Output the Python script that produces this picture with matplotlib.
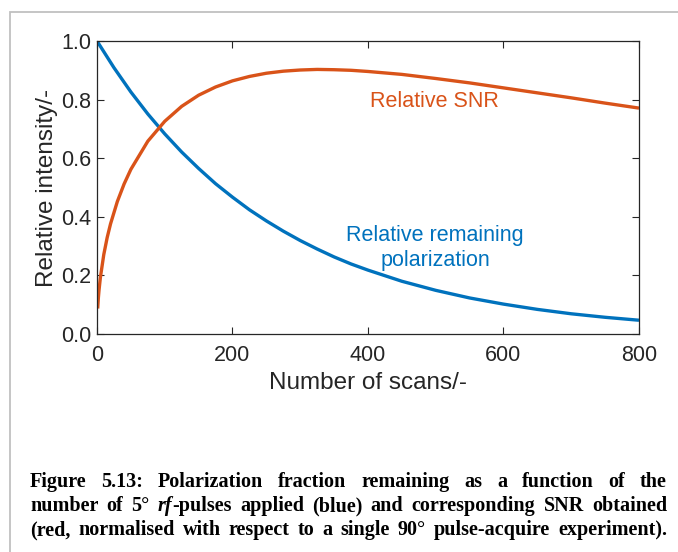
import matplotlib
matplotlib.use("Agg")
import matplotlib.pyplot as plt
from matplotlib.patches import Rectangle

# Data
scans_pol = [0, 25, 50, 75, 100, 125, 150, 175, 200, 225, 250, 275, 300, 325,
             350, 375, 400, 450, 500, 550, 600, 650, 700, 750, 800]
pol = [1.0, 0.909, 0.826, 0.751, 0.683, 0.621, 0.565, 0.513, 0.467, 0.424,
       0.386, 0.351, 0.319, 0.290, 0.263, 0.239, 0.218, 0.180, 0.149, 0.123,
       0.102, 0.084, 0.069, 0.057, 0.047]
scans_snr = [1, 2, 3, 5, 10, 15, 20, 30, 40, 50, 75, 100, 125, 150, 175, 200,
             225, 250, 275, 300, 325, 350, 375, 400, 450, 500, 550, 600, 650,
             700, 750, 800]
snr = [0.087, 0.123, 0.150, 0.193, 0.271, 0.329, 0.376, 0.452, 0.512, 0.562,
       0.658, 0.726, 0.777, 0.815, 0.843, 0.864, 0.879, 0.890, 0.897, 0.901,
       0.903, 0.902, 0.900, 0.896, 0.886, 0.872, 0.857, 0.840, 0.823, 0.806,
       0.788, 0.771]

xticks = [0, 200, 400, 600, 800]
yticks = [0.0, 0.2, 0.4, 0.6, 0.8, 1.0]
ytick_labels = ["0.0", "0.2", "0.4", "0.6", "0.8", "1.0"]

caption_lines = [
    [("Figure", "normal"), ("5.13:", "normal"), ("Polarization", "normal"),
     ("fraction", "normal"), ("remaining", "normal"), ("as", "normal"),
     ("a", "normal"), ("function", "normal"), ("of", "normal"), ("the", "normal")],
    [("number", "normal"), ("of", "normal"), ("5°", "normal"),
     ("rf-pulses", "mixed"), ("applied", "normal"), ("(blue)", "normal"),
     ("and", "normal"), ("corresponding", "normal"), ("SNR", "normal"),
     ("obtained", "normal")],
    [("(red,", "normal"), ("normalised", "normal"), ("with", "normal"),
     ("respect", "normal"), ("to", "normal"), ("a", "normal"),
     ("single", "normal"), ("90°", "normal"), ("pulse-acquire", "normal"),
     ("experiment).", "normal")],
]

BLUE = "#0072BD"
ORANGE = "#D95319"
W, H = 678, 552

plt.rcParams["font.family"] = ["Liberation Sans", "DejaVu Sans"]
fig = plt.figure(figsize=(W / 100, H / 100), dpi=100)
fig.patch.set_facecolor("white")

# grey frame
fig.add_artist(Rectangle((10 / W, -0.1), 1.2, 1 - 12 / H + 0.1,
                         transform=fig.transFigure, fill=False,
                         edgecolor="#c0c0c0", linewidth=1.3))

ax = fig.add_axes([97 / W, 1 - 334 / H, 542 / W, 293 / H])
ax.plot(scans_pol, pol, color=BLUE, lw=2.4, solid_capstyle="butt")
ax.plot(scans_snr, snr, color=ORANGE, lw=2.4, solid_capstyle="butt")
ax.set_xlim(0, 800)
ax.set_ylim(0, 1)
ax.set_xticks(xticks)
ax.set_yticks(yticks)
ax.set_yticklabels(ytick_labels)
ax.tick_params(direction="in", length=5, width=0.8, top=True, right=True,
               labelsize=15.5, colors="#262626")
ax.tick_params(axis="x", pad=8)
ax.tick_params(axis="y", pad=4)
for s in ax.spines.values():
    s.set_linewidth(0.9)
    s.set_color("#262626")
ax.set_xlabel("Number of scans/-", fontsize=17.5, color="#262626", labelpad=4)
ax.set_ylabel("Relative intensity/-", fontsize=17.5, color="#262626", labelpad=2)

fig.text(434 / W, 1 - 102 / H, "Relative SNR", ha="center", va="center",
         fontsize=15.5, color=ORANGE)
fig.text(435 / W, 1 - 248 / H, "Relative remaining\npolarization",
         ha="center", va="center", fontsize=15.5, color=BLUE, linespacing=1.3)

# Justified caption
fig.canvas.draw()
renderer = fig.canvas.get_renderer()
left_px, right_px = 30, 667
line_base = [487, 511, 535]
fs = 14.5
for words, ypx in zip(caption_lines, line_base):
    arts = []
    for w, style in words:
        if style == "mixed":
            t1 = fig.text(0, 0, "rf", fontsize=fs, fontweight="bold",
                          fontstyle="italic", family="Liberation Serif")
            t2 = fig.text(0, 0, "-pulses", fontsize=fs, fontweight="bold",
                          family="Liberation Serif")
            arts.append([t1, t2])
        else:
            t = fig.text(0, 0, w, fontsize=fs, fontweight="bold",
                         family="Liberation Serif")
            arts.append([t])
    widths = []
    for group in arts:
        widths.append([a.get_window_extent(renderer).width for a in group])
    total = sum(sum(w) for w in widths)
    gap = (right_px - left_px - total) / (len(arts) - 1)
    x = left_px
    for group, ws in zip(arts, widths):
        for a, wpx in zip(group, ws):
            a.set_position((x / W, 1 - ypx / H))
            a.set_va("baseline")
            x += wpx
        x += gap

fig.savefig("out.png", dpi=100, facecolor="white")
